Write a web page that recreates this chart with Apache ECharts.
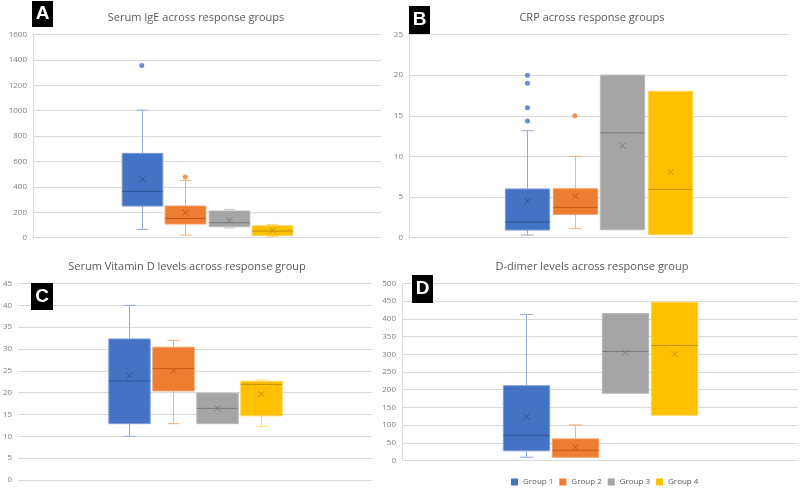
<!DOCTYPE html>
<html><head><meta charset="utf-8">
<script src="https://cdn.jsdelivr.net/npm/echarts@6/dist/echarts.min.js"></script>
<style>html,body{margin:0;padding:0;background:#fff}#c{width:800px;height:489px}</style>
</head><body><div id="c"></div>
<script>
// ---- data ----
const groups = ['Group 1', 'Group 2', 'Group 3', 'Group 4'];
// [min, Q1, median, Q3, max]
const igeStats = [[66, 249, 365, 664, 1005], [21, 108, 152, 249, 451], [76, 87, 118, 210, 223], [8, 18, 52, 94, 105]];
const igeMeans = [459, 199, 136, 58];
const igeOutliers = [[1356], [477], [], []];

const crpStats = [[0.33, 0.94, 1.93, 6, 13.16], [1.1, 2.87, 3.73, 6.02, 10], [0.98, 0.98, 12.9, 20, 20], [0.37, 0.37, 5.94, 18, 18]];
const crpMeans = [4.5, 5.08, 11.3, 8.1];
const crpOutliers = [[20, 19, 16, 14.35], [15], [], []];

const vitdStats = [[10, 12.9, 22.7, 32.3, 40], [12.9, 20.4, 25.5, 30.4, 32], [12.9, 12.9, 16.4, 19.9, 19.9], [12.3, 14.7, 21.9, 22.6, 22.9]];
const vitdMeans = [23.9, 25.0, 16.4, 19.7];
const vitdOutliers = [[], [], [], []];

const ddStats = [[9.4, 27.3, 71.4, 211.5, 412.6], [9.4, 9.4, 29, 61, 100.6], [190, 190, 308, 415, 415], [128, 128, 325, 447, 447]];
const ddMeans = [124, 37.6, 305.5, 300];
const ddOutliers = [[], [], [], []];

const igeTicks = {min: 0, max: 1600, interval: 200};
const crpTicks = {min: 0, max: 25, interval: 5};
const vitdTicks = {min: 0, max: 45, interval: 5};
const ddTicks = {min: 0, max: 500, interval: 50};

// ---- styles ----
const palette = [
  {fill: '#4472C4', whisker: '#8FAADC', border: '#7F9ED6', median: '#2F5597', mean: '#2F5597'},
  {fill: '#ED7D31', whisker: '#F4B183', border: '#F19A5E', median: '#C55A11', mean: '#C55A11'},
  {fill: '#A5A5A5', whisker: '#C9C9C9', border: '#B7B7B7', median: '#7B7B7B', mean: '#7B7B7B'},
  {fill: '#FFC000', whisker: '#FFD966', border: '#FFD24D', median: '#BF9000', mean: '#BF9000'}
];
const slotCount = 8;
const firstSlot = 2;
const FONT = 'Open Sans';

const panels = [
  {title: 'Serum IgE across response groups', stats: igeStats, means: igeMeans, outliers: igeOutliers, ticks: igeTicks,
   grid: {left: 33, right: 419, top: 34.5, bottom: 251.3}, titlePos: [196, 12], yLine: true, label: 'A', box: [32, 1, 21, 26]},
  {title: 'CRP across response groups', stats: crpStats, means: crpMeans, outliers: crpOutliers, ticks: crpTicks,
   grid: {left: 409, right: 12, top: 34.5, bottom: 251.3}, titlePos: [592, 12], yLine: true, label: 'B', box: [409, 6, 21, 28]},
  {title: 'Serum Vitamin D levels across response group', stats: vitdStats, means: vitdMeans, outliers: vitdOutliers, ticks: vitdTicks,
   grid: {left: 16, right: 428, top: 283.5, bottom: 9}, titlePos: [187, 261], yLine: false, label: 'C', box: [31, 283, 22, 27]},
  {title: 'D-dimer levels across response group', stats: ddStats, means: ddMeans, outliers: ddOutliers, ticks: ddTicks,
   grid: {left: 402, right: 2, top: 283.5, bottom: 28.5}, titlePos: [592, 261], yLine: true, label: 'D', box: [412, 275, 21, 28]}
];

function makeRender(st) {
  return function (params, api) {
    const x = api.value(0);
    const mn = api.value(1), q1 = api.value(2), md = api.value(3), q3 = api.value(4), mx = api.value(5), mean = api.value(6);
    const band = api.size([1, 0])[0];
    const bw = band * 0.935, cw = band * 0.27;
    const cx = Math.round(api.coord([x, md])[0]) + 0.5;
    const y = v => api.coord([x, v])[1];
    const ch = [];
    const ws = {stroke: st.whisker, lineWidth: 1};
    const ln = (x1, y1, x2, y2, s) => ({type: 'line', shape: {x1, y1, x2, y2}, style: s});
    if (mx > q3) {
      ch.push(ln(cx, y(q3), cx, y(mx), ws));
      ch.push(ln(cx - cw / 2, y(mx), cx + cw / 2, y(mx), ws));
    }
    if (mn < q1) {
      ch.push(ln(cx, y(q1), cx, y(mn), ws));
      ch.push(ln(cx - cw / 2, y(mn), cx + cw / 2, y(mn), ws));
    }
    ch.push({type: 'rect', shape: {x: cx - bw / 2, y: y(q3), width: bw, height: y(q1) - y(q3)},
      style: {fill: st.fill, stroke: st.border, lineWidth: 1}});
    ch.push(ln(cx - bw / 2, y(md), cx + bw / 2, y(md), {stroke: st.median, lineWidth: 1}));
    const m = y(mean), s = 3;
    ch.push(ln(cx - s, m - s, cx + s, m + s, {stroke: st.mean, lineWidth: 1}));
    ch.push(ln(cx - s, m + s, cx + s, m - s, {stroke: st.mean, lineWidth: 1}));
    return {type: 'group', children: ch};
  };
}

const option = {
  backgroundColor: '#ffffff',
  animation: false,
  title: [], grid: [], xAxis: [], yAxis: [], series: [], graphic: [],
  legend: {
    data: groups, icon: 'rect', itemWidth: 7, itemHeight: 7, itemGap: 6,
    left: 506, top: 473,
    textStyle: {fontFamily: FONT, fontSize: 8, color: '#595959'}
  }
};

panels.forEach((p, pi) => {
  option.title.push({text: p.title, left: p.titlePos[0], top: p.titlePos[1], textAlign: 'center', padding: 0,
    textStyle: {fontFamily: FONT, fontSize: 11, fontWeight: 'normal', color: '#595959'}});
  option.grid.push(Object.assign({containLabel: false}, p.grid));
  option.xAxis.push({type: 'category', gridIndex: pi, data: Array.from({length: slotCount}, (_, i) => 's' + i),
    axisLine: {show: false}, axisTick: {show: false}, axisLabel: {show: false}, splitLine: {show: false}});
  option.yAxis.push({type: 'value', gridIndex: pi, min: p.ticks.min, max: p.ticks.max, interval: p.ticks.interval,
    axisLine: {show: p.yLine, lineStyle: {color: '#d9d9d9'}}, axisTick: {show: false},
    splitLine: {lineStyle: {color: '#d9d9d9', width: 1}},
    axisLabel: {fontFamily: FONT, fontSize: 8, color: '#7f7f7f', margin: 6, formatter: v => String(v)}});
  groups.forEach((g, gi) => {
    const s = p.stats[gi];
    option.series.push({
      name: g, type: 'custom', xAxisIndex: pi, yAxisIndex: pi,
      itemStyle: {color: palette[gi].fill},
      encode: {x: 0, y: [1, 2, 3, 4, 5, 6]},
      renderItem: makeRender(palette[gi]),
      data: [[firstSlot + gi, s[0], s[1], s[2], s[3], s[4], p.means[gi]]]
    });
    if (p.outliers[gi].length) {
      option.series.push({
        name: g, type: 'scatter', xAxisIndex: pi, yAxisIndex: pi, symbol: 'circle', symbolSize: 5,
        itemStyle: {color: palette[gi].fill}, z: 3,
        data: p.outliers[gi].map(v => [firstSlot + gi, v])
      });
    }
  });
  option.graphic.push({type: 'group', z: 100, children: [
    {type: 'rect', z: 100, shape: {x: p.box[0], y: p.box[1], width: p.box[2], height: p.box[3]}, style: {fill: '#000'}},
    {type: 'text', z: 101, x: p.box[0] + p.box[2] / 2, y: p.box[1] + p.box[3] / 2,
      style: {text: p.label, fill: '#fff', font: 'bold 19px "Liberation Sans", Arial, sans-serif', align: 'center', verticalAlign: 'middle'}}
  ]});
});

const chart = echarts.init(document.getElementById('c'));
chart.setOption(option);
</script>
</body></html>
